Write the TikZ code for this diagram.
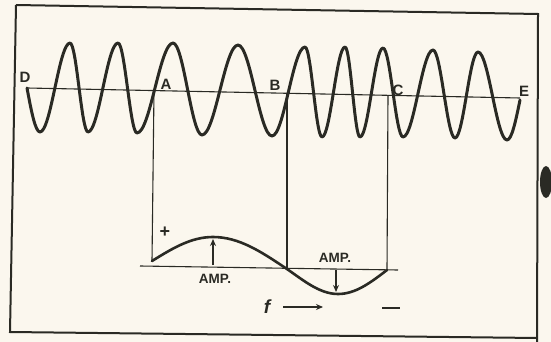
\documentclass[tikz,border=0pt]{standalone}
\usepackage{fontspec}
\setmainfont{Liberation Sans}
\usetikzlibrary{arrows.meta}
\definecolor{paper}{HTML}{FBF7EE}
\definecolor{ink}{HTML}{2A2A24}
\tikzset{
  frame/.style={draw=ink, line width=2pt, line join=miter},
  wave/.style={draw=ink, line width=3pt, line cap=round, line join=round},
  thin/.style={draw=ink, line width=1.1pt},
  lbl/.style={text=ink, font=\fontsize{15}{15}\selectfont\bfseries, inner sep=0pt},
  amp/.style={text=ink, font=\fontsize{13.5}{13.5}\selectfont\bfseries, inner sep=0pt},
  arr/.style={draw=ink, line width=1.3pt, -{Stealth[length=7pt,width=6pt]}},
}
\begin{document}
\begin{tikzpicture}[x=1pt,y=-1pt]
\fill[paper] (0,0) rectangle (551,342);
\useasboundingbox (0,0) rectangle (551,342);
% frame
\draw[frame] (16,5) -- (538,14) -- (537,342) (537,338) -- (10,332) -- (16,5);
% blob at right edge
\fill[ink] (546,182) ellipse[x radius=6, y radius=16];
% upper axis
\coordinate (axL) at (27,88);
\coordinate (axR) at (520,98);
\draw[thin] (axL) -- (axR);
% FM wave
\draw[wave] (27,88) .. controls (31.3,111.1) and (35.3,132) .. (40,132)
  .. controls +(10.9,0) and +(-10.9,0) .. (70,43)
  .. controls +(6.6,0) and +(-6.6,0) .. (88,132)
  .. controls +(10.9,0) and +(-10.9,0) .. (118,43)
  .. controls +(6.9,0) and +(-6.9,0) .. (137,133)
  .. controls +(13.1,0) and +(-13.1,0) .. (173,43)
  .. controls +(10.6,0) and +(-10.6,0) .. (202,135)
  .. controls +(13.1,0) and +(-13.1,0) .. (238,45)
  .. controls +(12.4,0) and +(-12.4,0) .. (272,136)
  .. controls +(12.0,0) and +(-12.0,0) .. (305,47)
  .. controls +(6.2,0) and +(-6.2,0) .. (322,137)
  .. controls +(8.4,0) and +(-8.4,0) .. (345,47)
  .. controls +(5.5,0) and +(-5.5,0) .. (360,137)
  .. controls +(8.4,0) and +(-8.4,0) .. (383,48)
  .. controls +(7.3,0) and +(-7.3,0) .. (403,137)
  .. controls +(10.9,0) and +(-10.9,0) .. (433,50)
  .. controls +(8.0,0) and +(-8.0,0) .. (455,138)
  .. controls +(8.4,0) and +(-8.4,0) .. (478,52)
  .. controls +(10.6,0) and +(-10.6,0) .. (507,140)
  .. controls (511.7,140) and (515.7,121) .. (520,100);
% labels on upper axis
\node[lbl] (lD) at (25,77) {D};
\node[lbl] (lA) at (166,84) {A};
\node[lbl] (lB) at (275,85) {B};
\node[lbl] (lC) at (398,90) {C};
\node[lbl] (lE) at (524,91) {E};
% vertical projections
\coordinate (At) at (154,90.6);
\coordinate (Ab) at (152,261);
\coordinate (Bt) at (287,93.3);
\coordinate (Bb) at (287,268);
\coordinate (Ct) at (388,95.3);
\coordinate (Cb) at (387,270);
\draw[thin] (At) -- (Ab);
\draw[thin] (Bt) -- (Bb);
\draw[thin] (Ct) -- (Cb);
% lower axis
\coordinate (bL) at (140,266);
\coordinate (bR) at (398,270);
\draw[thin] (bL) -- (bR);
% modulating signal
\draw[draw=ink, line width=2.6pt, line cap=round]
  (Ab) .. controls (172.4,248.4) and (191,237) .. (213,237)
  .. controls (238.6,237) and (260.3,251.2) .. (284,267)
  .. controls (302,279) and (318.6,294) .. (338,294)
  .. controls (355.6,294) and (370.6,282.6) .. (Cb);
% amplitude arrows
\coordinate (a1s) at (213,265);
\coordinate (a1e) at (213,239);
\coordinate (a2s) at (336,270);
\coordinate (a2e) at (336,292);
\draw[arr] (a1s) -- (a1e);
\draw[arr] (a2s) -- (a2e);
\node[amp] (amp1) at (215,279) {AMP.};
\node[amp] (amp2) at (335,258) {AMP.};
\node[text=ink, font=\fontsize{18}{18}\selectfont\bfseries, inner sep=0pt] (plus) at (165,232) {+};
% f arrow
\node[text=ink, font=\fontsize{19}{19}\selectfont\itshape\bfseries, inner sep=0pt] (f) at (267,307) {f};
\coordinate (fs) at (283,307);
\coordinate (fe) at (323,307);
\draw[arr] (fs) -- (fe);
\coordinate (m1) at (382,308);
\coordinate (m2) at (400,308);
\draw[draw=ink, line width=2.2pt] (m1) -- (m2);
\end{tikzpicture}
\end{document}
